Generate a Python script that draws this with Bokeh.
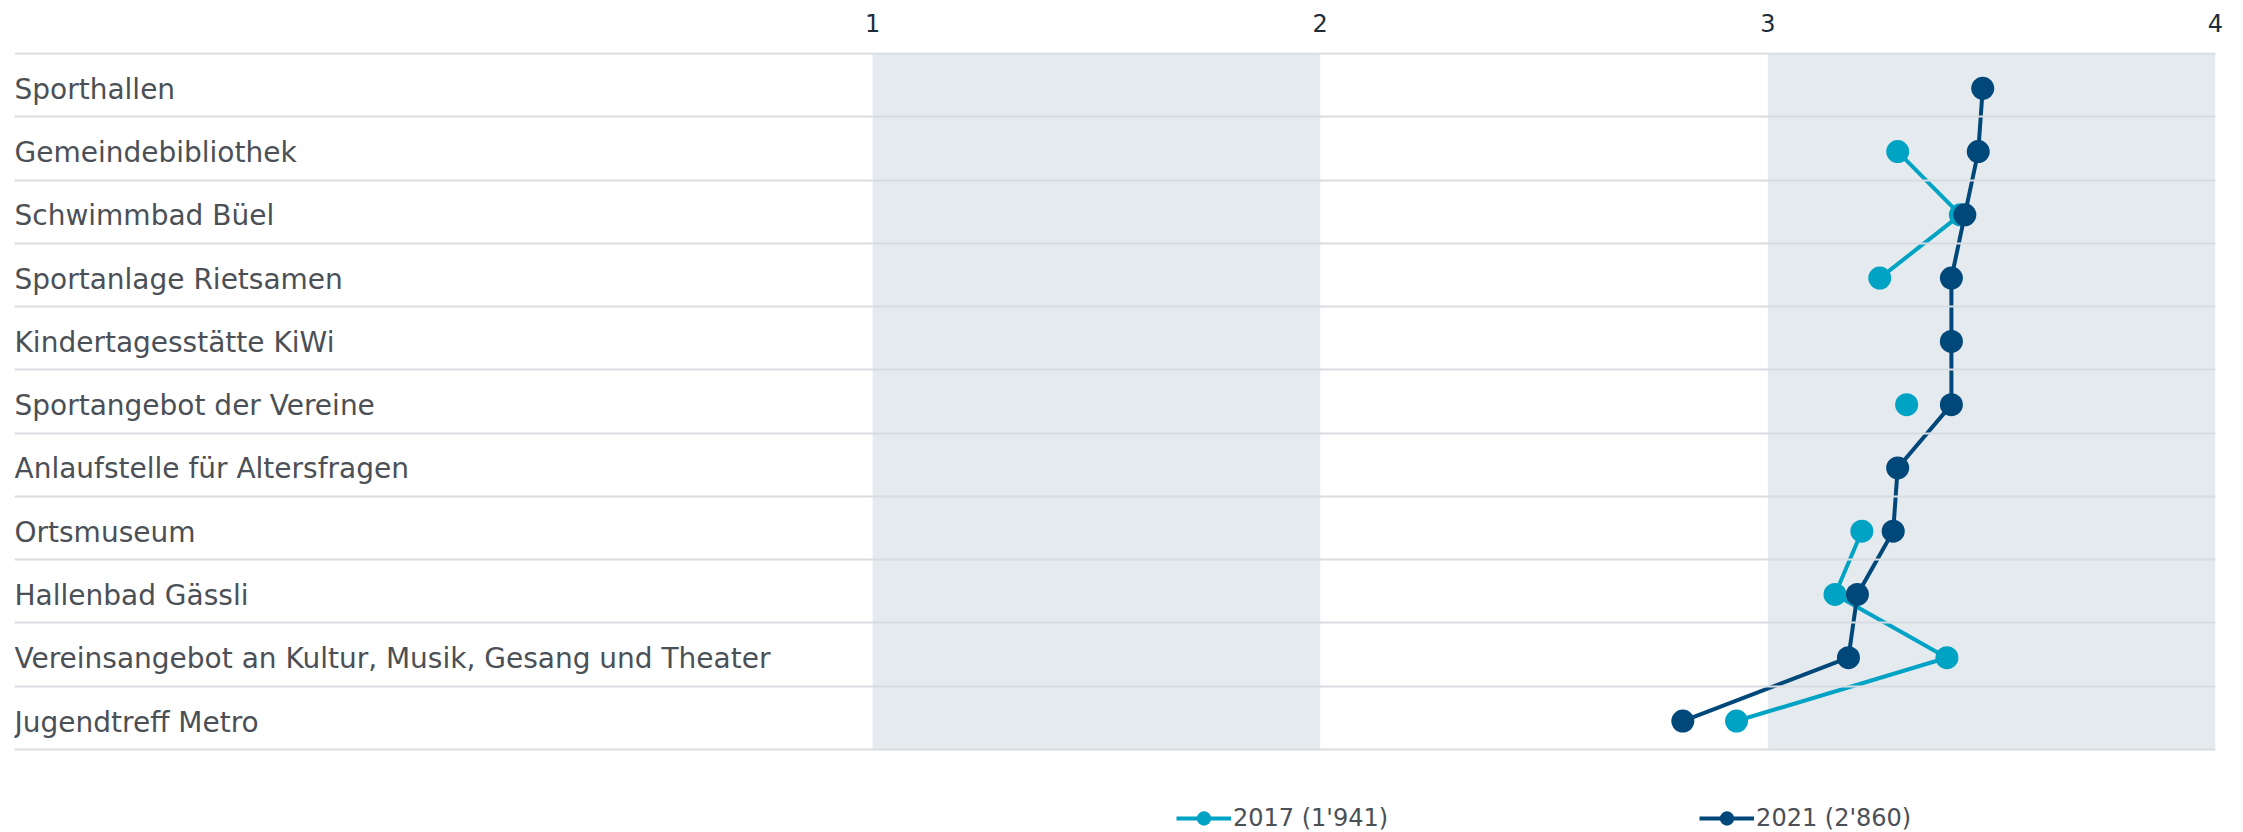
import math
from bokeh.plotting import figure
from bokeh.models import (ColumnDataSource, BoxAnnotation, FixedTicker, Legend,
                          LegendItem, Range1d)
from bokeh.core.properties import value
from bokeh.embed import file_html
from bokeh.resources import INLINE

nan = float("nan")

categories = [
    "Sporthallen",
    "Gemeindebibliothek",
    "Schwimmbad Büel",
    "Sportanlage Rietsamen",
    "Kindertagesstätte KiWi",
    "Sportangebot der Vereine",
    "Anlaufstelle für Altersfragen",
    "Ortsmuseum",
    "Hallenbad Gässli",
    "Vereinsangebot an Kultur, Musik, Gesang und Theater",
    "Jugendtreff Metro",
]
values_2017 = [nan, 3.29, 3.43, 3.25, nan, 3.31, nan, 3.21, 3.15, 3.40, 2.93]
values_2021 = [3.48, 3.47, 3.44, 3.41, 3.41, 3.41, 3.29, 3.28, 3.20, 3.18, 2.81]
series_labels = ["2017 (1'941)", "2021 (2'860)"]
x_ticks = [1, 2, 3, 4]

FONT = "DejaVu Sans"
TEAL = "#00a3c4"
NAVY = "#00477a"
BAND = "#e5eaef"
GRID = "#d8dce1"
TEXT = "#4b5056"

n = len(categories)
# row centre, drawn slightly below the geometric middle as in the original
ypos = [n - 0.55 - i for i in range(n)]

x_start = -0.917
row_px = 63.27
fig_h = 832
top_border = 52
frame_h = fig_h - top_border
y_end = n + 0.016
y_start = y_end - frame_h / row_px

p = figure(width=2227, height=fig_h, output_backend="svg", toolbar_location=None,
           x_range=Range1d(x_start, 4), y_range=Range1d(y_start, y_end),
           x_axis_location="above", min_border_left=14, min_border_right=12,
           min_border_top=top_border, min_border_bottom=0)
p.outline_line_color = None
p.background_fill_color = "white"
p.yaxis.visible = False
p.xgrid.visible = False

ax = p.xaxis[0]
ax.ticker = FixedTicker(ticks=x_ticks)
ax.axis_line_color = None
ax.major_tick_line_color = None
ax.minor_tick_line_color = None
ax.major_label_text_font = FONT
ax.major_label_text_font_size = "24px"
ax.major_label_text_color = "#1d2c3b"
ax.major_label_standoff = 15

p.ygrid.ticker = FixedTicker(ticks=list(range(n + 1)))
p.ygrid.grid_line_color = GRID
p.ygrid.grid_line_width = 2
p.ygrid.level = "glyph"

for lo in (1, 3):
    p.add_layout(BoxAnnotation(left=lo, right=lo + 1, bottom=0, top=n,
                               fill_color=BAND, fill_alpha=1.0, line_color=None,
                               level="underlay"))

label_src = ColumnDataSource(dict(x=[x_start] * n, y=ypos, t=categories))
p.text(x="x", y="y", text="t", source=label_src, text_font=value(FONT),
       text_font_size="28px", text_color=TEXT, text_baseline="middle",
       text_align="left", y_offset=1)

src17 = ColumnDataSource(dict(x=values_2017, y=ypos))
src21 = ColumnDataSource(dict(x=values_2021, y=ypos))

l17 = p.line("x", "y", source=src17, line_color=TEAL, line_width=4)
s17 = p.scatter("x", "y", source=src17, size=23, fill_color=TEAL, line_color=None)
l21 = p.line("x", "y", source=src21, line_color=NAVY, line_width=4)
s21 = p.scatter("x", "y", source=src21, size=23, fill_color=NAVY, line_color=None)

legend = Legend(items=[LegendItem(label=series_labels[0], renderers=[l17, s17]),
                       LegendItem(label=series_labels[1], renderers=[l21, s21])],
                location=(1162, -4), orientation="horizontal",
                glyph_width=55, glyph_height=36, label_standoff=2, spacing=311,
                padding=0, margin=0, border_line_color=None,
                background_fill_alpha=0,
                label_text_font=FONT, label_text_font_size="24px",
                label_text_color=TEXT, label_height=36)
p.add_layout(legend, "center")

open("out.html", "w").write(file_html(p, INLINE))
